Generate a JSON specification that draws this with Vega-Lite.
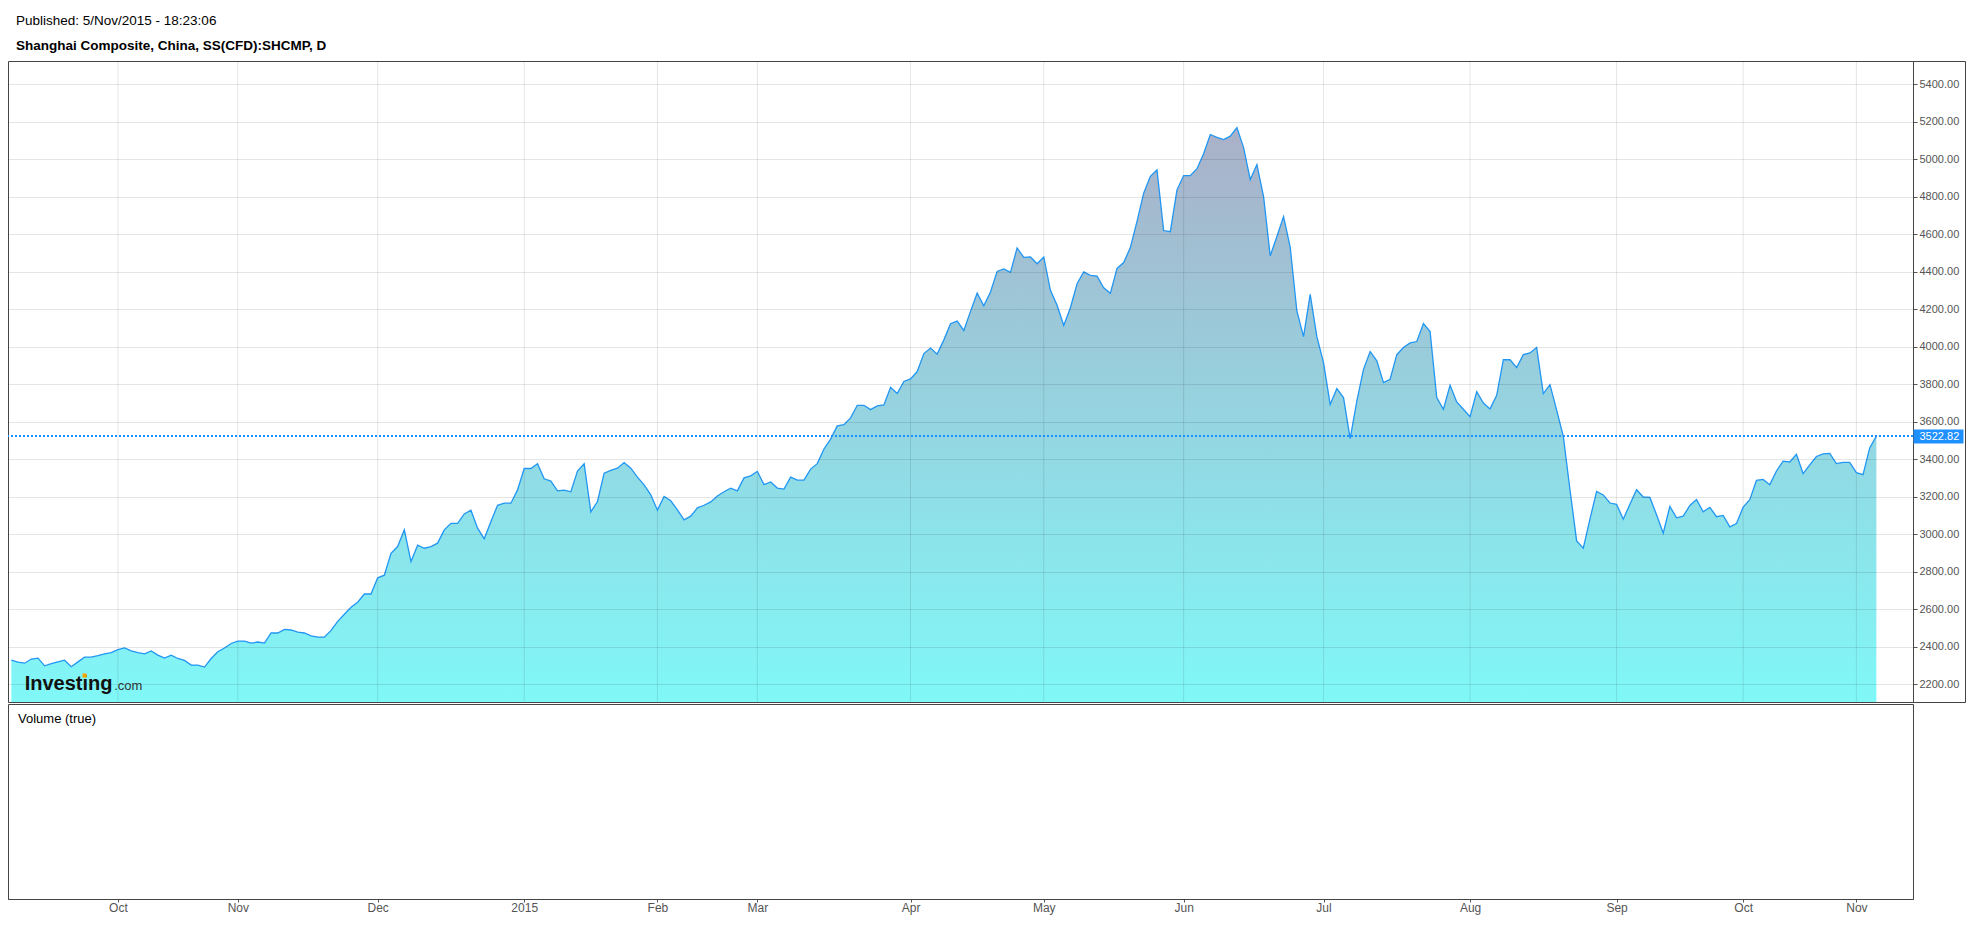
{
  "$schema": "https://vega.github.io/schema/vega-lite/v6.json",
  "background": "white",
  "padding": {"left": 7, "top": 14, "right": 8, "bottom": 6},
  "title": {
    "text": "Published: 5/Nov/2015 - 18:23:06",
    "subtitle": "Shanghai Composite, China, SS(CFD):SHCMP, D",
    "anchor": "start",
    "dx": 9,
    "offset": 8,
    "baseline": "top",
    "font": "Liberation Sans",
    "fontSize": 13.5,
    "fontWeight": "normal",
    "color": "#000000",
    "subtitleFont": "Liberation Sans",
    "subtitleFontSize": 13.5,
    "subtitleFontWeight": "bold",
    "subtitleColor": "#000000",
    "subtitlePadding": 11
  },
  "datasets": {
    "px": [
      {"date": "2014-09-09", "close": 2328}, {"date": "2014-09-10", "close": 2318}, {"date": "2014-09-11", "close": 2312},
      {"date": "2014-09-12", "close": 2334}, {"date": "2014-09-15", "close": 2339}, {"date": "2014-09-16", "close": 2298},
      {"date": "2014-09-17", "close": 2309}, {"date": "2014-09-18", "close": 2319}, {"date": "2014-09-19", "close": 2328},
      {"date": "2014-09-22", "close": 2293}, {"date": "2014-09-23", "close": 2319}, {"date": "2014-09-24", "close": 2344},
      {"date": "2014-09-25", "close": 2344}, {"date": "2014-09-26", "close": 2352}, {"date": "2014-09-29", "close": 2362},
      {"date": "2014-09-30", "close": 2368},
      {"date": "2014-10-08", "close": 2384}, {"date": "2014-10-09", "close": 2393}, {"date": "2014-10-10", "close": 2378},
      {"date": "2014-10-13", "close": 2368}, {"date": "2014-10-14", "close": 2362}, {"date": "2014-10-15", "close": 2377},
      {"date": "2014-10-16", "close": 2355}, {"date": "2014-10-17", "close": 2339}, {"date": "2014-10-20", "close": 2355},
      {"date": "2014-10-21", "close": 2337}, {"date": "2014-10-22", "close": 2327}, {"date": "2014-10-23", "close": 2302},
      {"date": "2014-10-24", "close": 2302}, {"date": "2014-10-27", "close": 2291}, {"date": "2014-10-28", "close": 2337},
      {"date": "2014-10-29", "close": 2373}, {"date": "2014-10-30", "close": 2393}, {"date": "2014-10-31", "close": 2417},
      {"date": "2014-11-03", "close": 2430}, {"date": "2014-11-04", "close": 2430}, {"date": "2014-11-05", "close": 2419},
      {"date": "2014-11-06", "close": 2425}, {"date": "2014-11-07", "close": 2419}, {"date": "2014-11-10", "close": 2473},
      {"date": "2014-11-11", "close": 2473}, {"date": "2014-11-12", "close": 2492}, {"date": "2014-11-13", "close": 2489},
      {"date": "2014-11-14", "close": 2478}, {"date": "2014-11-17", "close": 2473}, {"date": "2014-11-18", "close": 2458},
      {"date": "2014-11-19", "close": 2451}, {"date": "2014-11-20", "close": 2451}, {"date": "2014-11-21", "close": 2487},
      {"date": "2014-11-24", "close": 2535}, {"date": "2014-11-25", "close": 2573}, {"date": "2014-11-26", "close": 2610},
      {"date": "2014-11-27", "close": 2637}, {"date": "2014-11-28", "close": 2681},
      {"date": "2014-12-01", "close": 2681}, {"date": "2014-12-02", "close": 2767}, {"date": "2014-12-03", "close": 2781},
      {"date": "2014-12-04", "close": 2898}, {"date": "2014-12-05", "close": 2934}, {"date": "2014-12-08", "close": 3023},
      {"date": "2014-12-09", "close": 2854}, {"date": "2014-12-10", "close": 2941}, {"date": "2014-12-11", "close": 2925},
      {"date": "2014-12-12", "close": 2934}, {"date": "2014-12-15", "close": 2952}, {"date": "2014-12-16", "close": 3023},
      {"date": "2014-12-17", "close": 3058}, {"date": "2014-12-18", "close": 3058}, {"date": "2014-12-19", "close": 3108},
      {"date": "2014-12-22", "close": 3128}, {"date": "2014-12-23", "close": 3032}, {"date": "2014-12-24", "close": 2975},
      {"date": "2014-12-25", "close": 3067}, {"date": "2014-12-26", "close": 3154}, {"date": "2014-12-29", "close": 3165},
      {"date": "2014-12-30", "close": 3165}, {"date": "2014-12-31", "close": 3236},
      {"date": "2015-01-05", "close": 3350}, {"date": "2015-01-06", "close": 3350}, {"date": "2015-01-07", "close": 3375},
      {"date": "2015-01-08", "close": 3295}, {"date": "2015-01-09", "close": 3283}, {"date": "2015-01-12", "close": 3231},
      {"date": "2015-01-13", "close": 3235}, {"date": "2015-01-14", "close": 3226}, {"date": "2015-01-15", "close": 3336},
      {"date": "2015-01-16", "close": 3375}, {"date": "2015-01-19", "close": 3119}, {"date": "2015-01-20", "close": 3174},
      {"date": "2015-01-21", "close": 3325}, {"date": "2015-01-22", "close": 3340}, {"date": "2015-01-23", "close": 3352},
      {"date": "2015-01-26", "close": 3382}, {"date": "2015-01-27", "close": 3352}, {"date": "2015-01-28", "close": 3304},
      {"date": "2015-01-29", "close": 3263}, {"date": "2015-01-30", "close": 3210},
      {"date": "2015-02-02", "close": 3128}, {"date": "2015-02-03", "close": 3201}, {"date": "2015-02-04", "close": 3178},
      {"date": "2015-02-05", "close": 3130}, {"date": "2015-02-06", "close": 3076}, {"date": "2015-02-09", "close": 3096},
      {"date": "2015-02-10", "close": 3140}, {"date": "2015-02-11", "close": 3154}, {"date": "2015-02-12", "close": 3172},
      {"date": "2015-02-13", "close": 3204}, {"date": "2015-02-16", "close": 3226}, {"date": "2015-02-17", "close": 3245},
      {"date": "2015-02-25", "close": 3231}, {"date": "2015-02-26", "close": 3300}, {"date": "2015-02-27", "close": 3311},
      {"date": "2015-03-02", "close": 3335}, {"date": "2015-03-03", "close": 3264}, {"date": "2015-03-04", "close": 3278},
      {"date": "2015-03-05", "close": 3246}, {"date": "2015-03-06", "close": 3240}, {"date": "2015-03-09", "close": 3304},
      {"date": "2015-03-10", "close": 3288}, {"date": "2015-03-11", "close": 3288}, {"date": "2015-03-12", "close": 3347},
      {"date": "2015-03-13", "close": 3376}, {"date": "2015-03-16", "close": 3454}, {"date": "2015-03-17", "close": 3507},
      {"date": "2015-03-18", "close": 3577}, {"date": "2015-03-19", "close": 3584}, {"date": "2015-03-20", "close": 3620},
      {"date": "2015-03-23", "close": 3687}, {"date": "2015-03-24", "close": 3687}, {"date": "2015-03-25", "close": 3664},
      {"date": "2015-03-26", "close": 3684}, {"date": "2015-03-27", "close": 3689}, {"date": "2015-03-30", "close": 3783},
      {"date": "2015-03-31", "close": 3750},
      {"date": "2015-04-01", "close": 3814}, {"date": "2015-04-02", "close": 3828}, {"date": "2015-04-03", "close": 3867},
      {"date": "2015-04-07", "close": 3963}, {"date": "2015-04-08", "close": 3992}, {"date": "2015-04-09", "close": 3960},
      {"date": "2015-04-10", "close": 4036}, {"date": "2015-04-13", "close": 4122}, {"date": "2015-04-14", "close": 4136},
      {"date": "2015-04-15", "close": 4086}, {"date": "2015-04-16", "close": 4188}, {"date": "2015-04-17", "close": 4285},
      {"date": "2015-04-20", "close": 4218}, {"date": "2015-04-21", "close": 4291}, {"date": "2015-04-22", "close": 4401},
      {"date": "2015-04-23", "close": 4414}, {"date": "2015-04-24", "close": 4396}, {"date": "2015-04-27", "close": 4526},
      {"date": "2015-04-28", "close": 4476}, {"date": "2015-04-29", "close": 4478}, {"date": "2015-04-30", "close": 4442},
      {"date": "2015-05-04", "close": 4478}, {"date": "2015-05-05", "close": 4300}, {"date": "2015-05-06", "close": 4221},
      {"date": "2015-05-07", "close": 4113}, {"date": "2015-05-08", "close": 4207}, {"date": "2015-05-11", "close": 4335},
      {"date": "2015-05-12", "close": 4398}, {"date": "2015-05-13", "close": 4380}, {"date": "2015-05-14", "close": 4376},
      {"date": "2015-05-15", "close": 4314}, {"date": "2015-05-18", "close": 4284}, {"date": "2015-05-19", "close": 4417},
      {"date": "2015-05-20", "close": 4448}, {"date": "2015-05-21", "close": 4528}, {"date": "2015-05-22", "close": 4668},
      {"date": "2015-05-25", "close": 4818}, {"date": "2015-05-26", "close": 4908}, {"date": "2015-05-27", "close": 4942},
      {"date": "2015-05-28", "close": 4619}, {"date": "2015-05-29", "close": 4613},
      {"date": "2015-06-01", "close": 4836}, {"date": "2015-06-02", "close": 4912}, {"date": "2015-06-03", "close": 4912},
      {"date": "2015-06-04", "close": 4949}, {"date": "2015-06-05", "close": 5028}, {"date": "2015-06-08", "close": 5131},
      {"date": "2015-06-09", "close": 5116}, {"date": "2015-06-10", "close": 5104}, {"date": "2015-06-11", "close": 5122},
      {"date": "2015-06-12", "close": 5168}, {"date": "2015-06-15", "close": 5061}, {"date": "2015-06-16", "close": 4891},
      {"date": "2015-06-17", "close": 4971}, {"date": "2015-06-18", "close": 4800}, {"date": "2015-06-19", "close": 4484},
      {"date": "2015-06-23", "close": 4587}, {"date": "2015-06-24", "close": 4693}, {"date": "2015-06-25", "close": 4530},
      {"date": "2015-06-26", "close": 4190}, {"date": "2015-06-29", "close": 4053}, {"date": "2015-06-30", "close": 4279},
      {"date": "2015-07-01", "close": 4053}, {"date": "2015-07-02", "close": 3915}, {"date": "2015-07-03", "close": 3692},
      {"date": "2015-07-06", "close": 3776}, {"date": "2015-07-07", "close": 3728}, {"date": "2015-07-08", "close": 3509},
      {"date": "2015-07-09", "close": 3710}, {"date": "2015-07-10", "close": 3879}, {"date": "2015-07-13", "close": 3973},
      {"date": "2015-07-14", "close": 3924}, {"date": "2015-07-15", "close": 3808}, {"date": "2015-07-16", "close": 3826},
      {"date": "2015-07-17", "close": 3957}, {"date": "2015-07-20", "close": 3995}, {"date": "2015-07-21", "close": 4020},
      {"date": "2015-07-22", "close": 4027}, {"date": "2015-07-23", "close": 4123}, {"date": "2015-07-24", "close": 4080},
      {"date": "2015-07-27", "close": 3728}, {"date": "2015-07-28", "close": 3666}, {"date": "2015-07-29", "close": 3794},
      {"date": "2015-07-30", "close": 3705}, {"date": "2015-07-31", "close": 3666},
      {"date": "2015-08-03", "close": 3627}, {"date": "2015-08-04", "close": 3760}, {"date": "2015-08-05", "close": 3699},
      {"date": "2015-08-06", "close": 3668}, {"date": "2015-08-07", "close": 3740}, {"date": "2015-08-10", "close": 3930},
      {"date": "2015-08-11", "close": 3930}, {"date": "2015-08-12", "close": 3888}, {"date": "2015-08-13", "close": 3957},
      {"date": "2015-08-14", "close": 3966}, {"date": "2015-08-17", "close": 3995}, {"date": "2015-08-18", "close": 3749},
      {"date": "2015-08-19", "close": 3797}, {"date": "2015-08-20", "close": 3661}, {"date": "2015-08-21", "close": 3522},
      {"date": "2015-08-24", "close": 3237}, {"date": "2015-08-25", "close": 2964}, {"date": "2015-08-26", "close": 2925},
      {"date": "2015-08-27", "close": 3080}, {"date": "2015-08-28", "close": 3228}, {"date": "2015-08-31", "close": 3209},
      {"date": "2015-09-01", "close": 3166}, {"date": "2015-09-02", "close": 3159}, {"date": "2015-09-07", "close": 3080},
      {"date": "2015-09-08", "close": 3160}, {"date": "2015-09-09", "close": 3237}, {"date": "2015-09-10", "close": 3198},
      {"date": "2015-09-11", "close": 3196}, {"date": "2015-09-14", "close": 3103}, {"date": "2015-09-15", "close": 3005},
      {"date": "2015-09-16", "close": 3148}, {"date": "2015-09-17", "close": 3087}, {"date": "2015-09-18", "close": 3096},
      {"date": "2015-09-21", "close": 3153}, {"date": "2015-09-22", "close": 3185}, {"date": "2015-09-23", "close": 3119},
      {"date": "2015-09-24", "close": 3143}, {"date": "2015-09-25", "close": 3093}, {"date": "2015-09-28", "close": 3100},
      {"date": "2015-09-29", "close": 3039}, {"date": "2015-09-30", "close": 3057},
      {"date": "2015-10-08", "close": 3144}, {"date": "2015-10-09", "close": 3184}, {"date": "2015-10-12", "close": 3287},
      {"date": "2015-10-13", "close": 3292}, {"date": "2015-10-14", "close": 3264}, {"date": "2015-10-15", "close": 3337},
      {"date": "2015-10-16", "close": 3389}, {"date": "2015-10-19", "close": 3385}, {"date": "2015-10-20", "close": 3426},
      {"date": "2015-10-21", "close": 3323}, {"date": "2015-10-22", "close": 3369}, {"date": "2015-10-23", "close": 3414},
      {"date": "2015-10-26", "close": 3428}, {"date": "2015-10-27", "close": 3431}, {"date": "2015-10-28", "close": 3376},
      {"date": "2015-10-29", "close": 3383}, {"date": "2015-10-30", "close": 3383},
      {"date": "2015-11-02", "close": 3328}, {"date": "2015-11-03", "close": 3317}, {"date": "2015-11-04", "close": 3460},
      {"date": "2015-11-05", "close": 3522.82}
    ]
  },
  "vconcat": [
    {
      "width": 1905,
      "height": 641,
      "data": {"name": "px"},
      "layer": [
        {
          "mark": {
            "type": "area",
            "opacity": 1,
            "color": {
              "gradient": "linear", "x1": 0, "y1": 0, "x2": 0, "y2": 1,
              "stops": [{"offset": 0, "color": "#AAB0C8"}, {"offset": 1, "color": "#80F8F8"}]
            }
          },
          "encoding": {
            "x": {
              "field": "date", "type": "ordinal",
              "scale": {
                "type": "point", "paddingOuter": 0.35, "align": 0.5,
                "domain": {"unionWith": ["2015-11-06", "2015-11-09", "2015-11-10", "2015-11-11", "2015-11-12"]}
              },
              "axis": null
            },
            "y": {
              "field": "close", "type": "quantitative",
              "scale": {"domain": [2105, 5523], "nice": false, "zero": false},
              "axis": {
                "orient": "right",
                "values": [2200, 2400, 2600, 2800, 3000, 3200, 3400, 3600, 3800, 4000, 4200, 4400, 4600, 4800, 5000, 5200, 5400],
                "format": ".2f", "title": null,
                "grid": true, "gridColor": "#000000", "gridOpacity": 0.1,
                "domainColor": "#444444", "tickColor": "#555555", "tickSize": 4,
                "labelPadding": 2, "labelFontSize": 11, "labelColor": "#555555", "labelFont": "Liberation Sans",
                "labelOverlap": false, "labelFlush": false, "labelBound": false, "zindex": 1
              }
            },
            "y2": {"datum": 2105}
          }
        },
        {
          "transform": [{"filter": {"field": "date", "oneOf": ["2014-10-08", "2014-11-03", "2014-12-02", "2015-01-05", "2015-02-02", "2015-03-02", "2015-04-02", "2015-05-04", "2015-06-02", "2015-07-02", "2015-08-03", "2015-09-02", "2015-10-08", "2015-11-02"]}}],
          "mark": {"type": "rule", "color": "#000000", "opacity": 0.1, "strokeWidth": 1},
          "encoding": {
            "x": {"field": "date", "type": "ordinal", "axis": null}
          }
        },
        {
          "mark": {"type": "line", "color": "#2196F3", "strokeWidth": 1.3},
          "encoding": {
            "x": {"field": "date", "type": "ordinal", "axis": null},
            "y": {
              "field": "close", "type": "quantitative",
              "axis": {
                "orient": "right", "values": [2105, 5523], "title": null,
                "domain": false, "grid": false, "labels": false,
                "tickSize": 52, "tickColor": "#444444", "tickWidth": 1, "zindex": 1
              }
            }
          }
        },
        {
          "mark": {"type": "rule", "color": "#1E90FF", "strokeDash": [2, 2], "strokeWidth": 1},
          "encoding": {
            "y": {
              "datum": 3522.82, "type": "quantitative",
              "axis": {
                "orient": "right", "values": [3522.82], "format": ".2f", "title": null,
                "grid": false, "domain": false,
                "tickColor": "#1E90FF", "tickSize": 50, "tickWidth": 14,
                "labelColor": "#FFFFFF", "labelPadding": -44, "labelFontSize": 11, "labelFont": "Liberation Sans",
                "labelOverlap": false, "labelFlush": false, "labelBound": false, "zindex": 2
              }
            }
          }
        },
        {
          "transform": [{"filter": "datum.date == '2014-09-11'"}],
          "mark": {"type": "text", "text": "Investing", "align": "left", "baseline": "alphabetic", "font": "Liberation Sans", "fontSize": 20, "fontWeight": "bold", "color": "#111111"},
          "encoding": {
            "x": {"field": "date", "type": "ordinal", "axis": null},
            "y": {
              "datum": 2170, "type": "quantitative",
              "axis": {
                "orient": "right", "offset": 52, "title": null,
                "domain": true, "domainColor": "#444444", "ticks": false, "labels": false, "grid": false, "zindex": 1
              }
            }
          }
        },
        {
          "transform": [{"filter": "datum.date == '2014-09-30'"}],
          "mark": {"type": "text", "text": ".com", "align": "left", "baseline": "alphabetic", "font": "Liberation Sans", "fontSize": 13, "color": "#333333", "dx": 3},
          "encoding": {
            "x": {"field": "date", "type": "ordinal", "axis": null},
            "y": {"datum": 2170, "type": "quantitative", "axis": null}
          }
        },
        {
          "transform": [{"filter": "datum.date == '2014-09-24'"}],
          "mark": {"type": "point", "shape": "square", "filled": true, "color": "#F7A600", "size": 18, "opacity": 1},
          "encoding": {
            "x": {"field": "date", "type": "ordinal", "axis": null},
            "y": {"datum": 2246, "type": "quantitative", "axis": null}
          }
        }
      ],
      "resolve": {"axis": {"y": "independent"}}
    },
    {
      "width": 1905,
      "height": 195,
      "data": {"name": "px"},
      "title": {
        "text": "Volume (true)", "anchor": "start", "dx": 10, "offset": -21.5, "baseline": "top",
        "font": "Liberation Sans", "fontSize": 13, "fontWeight": "normal", "color": "#000000"
      },
      "mark": {"type": "point", "opacity": 0},
      "encoding": {
        "x": {
          "field": "date", "type": "ordinal",
          "scale": {
            "type": "point", "paddingOuter": 0.35, "align": 0.5,
            "domain": {"unionWith": ["2015-11-06", "2015-11-09", "2015-11-10", "2015-11-11", "2015-11-12"]}
          },
          "axis": {
            "values": ["2014-10-08", "2014-11-03", "2014-12-02", "2015-01-05", "2015-02-02", "2015-03-02", "2015-04-02", "2015-05-04", "2015-06-02", "2015-07-02", "2015-08-03", "2015-09-02", "2015-10-08", "2015-11-02"],
            "labelExpr": "datum.value == '2015-01-05' ? '2015' : utcFormat(toDate(datum.value), '%b')",
            "labelAngle": 0, "labelFontSize": 12, "labelColor": "#555555", "labelFont": "Liberation Sans",
            "labelPadding": 0, "tickSize": 3, "tickColor": "#555555", "domainColor": "#444444",
            "title": null, "grid": false, "labelOverlap": false
          }
        }
      }
    }
  ],
  "spacing": 0,
  "resolve": {"scale": {"x": "independent"}},
  "config": {
    "font": "Liberation Sans",
    "view": {"stroke": "#444444", "strokeWidth": 1}
  }
}
